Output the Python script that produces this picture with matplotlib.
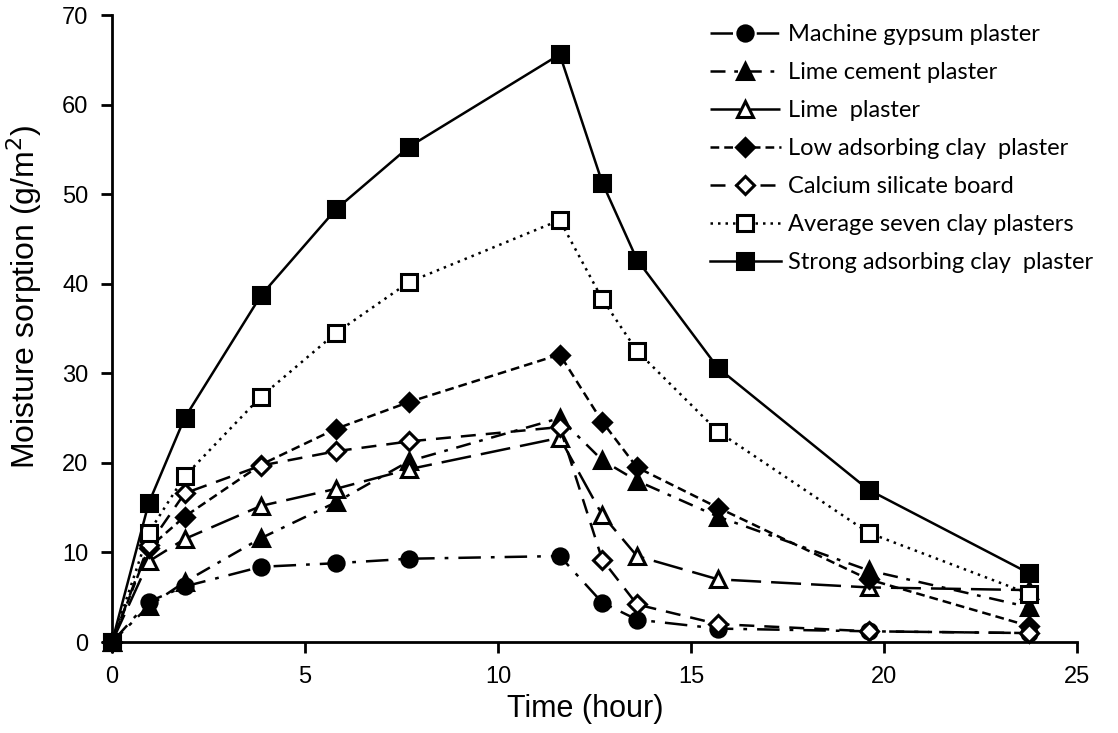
import matplotlib
matplotlib.use('Agg')
import matplotlib.pyplot as plt

# Time points (hour)
hours = [0, 0.95, 1.88, 3.86, 5.8, 7.7, 11.6, 12.7, 13.6, 15.7, 19.6, 23.75]

# Moisture sorption (g/m2) per material
machineGypsum = [0, 4.5, 6.2, 8.4, 8.8, 9.3, 9.6, 4.4, 2.5, 1.5, 1.2, 1.0]
limeCement = [0, 4.0, 6.7, 11.6, 15.6, 20.2, 25.0, 20.3, 18.0, 14.0, 8.0, 3.9]
limePlaster = [0, 9.0, 11.5, 15.2, 17.1, 19.3, 22.8, 14.2, 9.6, 7.0, 6.1, 5.8]
lowClay = [0, 10.5, 14.0, 19.8, 23.8, 26.8, 32.1, 24.6, 19.5, 15.0, 7.0, 1.8]
calciumSilicate = [0, 10.8, 16.6, 19.7, 21.3, 22.4, 24.0, 9.2, 4.2, 2.0, 1.2, 1.0]
avgSevenClay = [0, 12.2, 18.5, 27.4, 34.5, 40.2, 47.1, 38.3, 32.5, 23.5, 12.2, 5.4]
strongClay = [0, 15.5, 25.0, 38.7, 48.3, 55.3, 65.6, 51.3, 42.7, 30.6, 17.0, 7.7]

labels = ['Machine gypsum plaster', 'Lime cement plaster', 'Lime  plaster',
          'Low adsorbing clay  plaster', 'Calcium silicate board',
          'Average seven clay plasters', 'Strong adsorbing clay  plaster']

plt.rcParams['font.family'] = ['Liberation Sans', 'DejaVu Sans']

fig = plt.figure(figsize=(11.18, 7.33), dpi=100)
ax = fig.add_axes([0.1002, 0.1241, 0.8631, 0.8554])

lw = 1.8
#Each series: values, marker, fill, linestyle, marker size
series = [
    (machineGypsum, 'o', 'black', (0, (9, 4, 1.5, 4)), 11),
    (limeCement, '^', 'black', (0, (6, 3.5, 1.5, 3.5)), 11),
    (limePlaster, '^', 'white', (0, (12, 4)), 11),
    (lowClay, 'D', 'black', (0, (3.5, 2)), 9),
    (calciumSilicate, 'D', 'white', (0, (6, 4)), 9),
    (avgSevenClay, 's', 'white', (0, (1, 2)), 11),
    (strongClay, 's', 'black', '-', 12),
]

for (vals, mk, fc, ls, ms), lab in zip(series, labels):
    ax.plot(hours, vals, color='black', linestyle=ls, linewidth=lw,
            marker=mk, markersize=ms, markerfacecolor=fc,
            markeredgecolor='black', markeredgewidth=2.2,
            label=lab, clip_on=False, zorder=3)

ax.set_xlim(0, 25)
ax.set_ylim(0, 70)
ax.set_xticks([0, 5, 10, 15, 20, 25])
ax.set_yticks(range(0, 71, 10))
for side in ['top', 'right']:
    ax.spines[side].set_visible(False)
for side in ['left', 'bottom']:
    ax.spines[side].set_linewidth(2)
ax.tick_params(axis='both', direction='out', length=8, width=2,
               labelsize=17, pad=9)
ax.set_xlabel('Time (hour)', fontsize=22)
ax.set_ylabel('Moisture sorption (g/m$^2$)', fontsize=23)
ax.xaxis.set_label_coords(0.49, -0.083)
ax.yaxis.set_label_coords(-0.07, 0.55)

leg = ax.legend(loc='upper left', bbox_to_anchor=(0.635, 0.967),
                bbox_transform=fig.transFigure, frameon=False,
                borderpad=0, borderaxespad=0, handlelength=3.0,
                handletextpad=0.3, labelspacing=0.72,
                prop={'family': 'Lato', 'size': 17})

fig.savefig('out.png', dpi=100)
